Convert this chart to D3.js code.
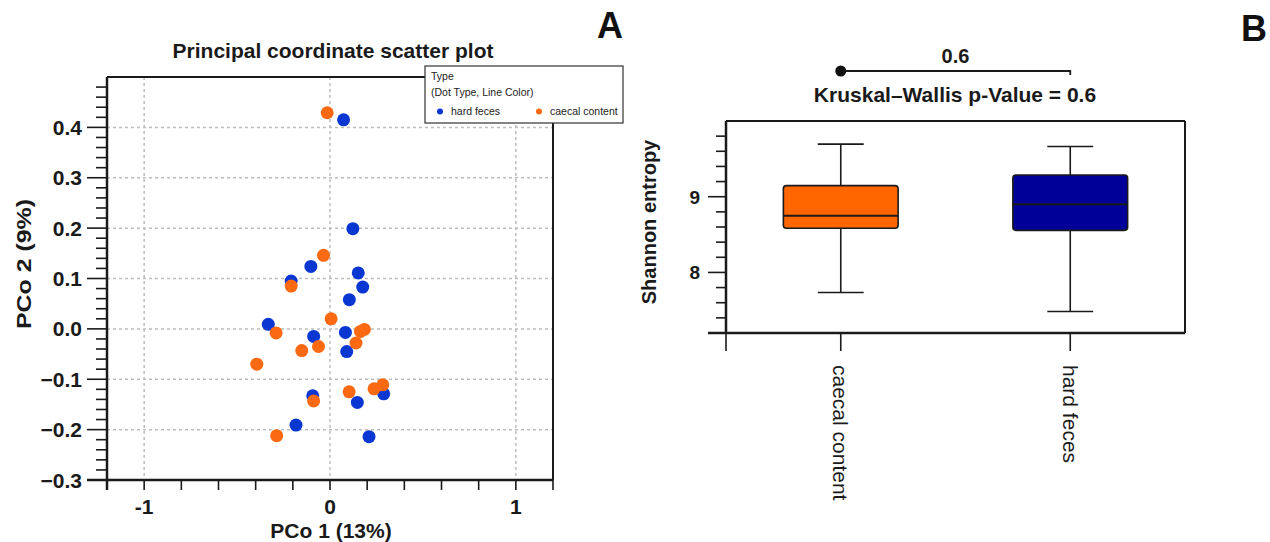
<!DOCTYPE html>
<html>
<head>
<meta charset="utf-8">
<script src="https://cdn.jsdelivr.net/npm/d3@7"></script>
<style>
  body { margin: 0; background: #fff; }
  svg { font-family: "Liberation Sans", Arial, sans-serif; }
</style>
</head>
<body>
<svg id="fig" width="1270" height="542"></svg>
<script>
// Panel A data: principal coordinates per sample
const hardFecesX = [0.073, 0.123, -0.103, 0.152, -0.209, 0.176, 0.104, -0.332, -0.088, 0.083, 0.090, 0.289, -0.093, 0.147, -0.183, 0.210];
const hardFecesY = [0.415, 0.199, 0.124, 0.111, 0.095, 0.083, 0.058, 0.009, -0.015, -0.007, -0.045, -0.129, -0.133, -0.146, -0.191, -0.214];
const caecalX = [-0.015, -0.035, -0.209, 0.006, -0.290, -0.062, -0.152, 0.164, 0.185, 0.140, -0.394, 0.284, 0.237, 0.103, -0.088, -0.287];
const caecalY = [0.429, 0.146, 0.085, 0.020, -0.008, -0.035, -0.043, -0.005, -0.001, -0.028, -0.070, -0.111, -0.119, -0.125, -0.143, -0.212];
const xTickLabels = [-1, 0, 1];
const yTickLabels = [-0.3, -0.2, -0.1, 0.0, 0.1, 0.2, 0.3, 0.4];

// Panel B data: Shannon entropy box stats
const groups = ["caecal content", "hard feces"];
const boxMin = [7.735, 7.483];
const boxQ1 = [8.584, 8.556];
const boxMedian = [8.748, 8.902];
const boxQ3 = [9.146, 9.287];
const boxMax = [9.694, 9.663];
const entropyTicks = [8, 9];
const pValue = 0.6;

const svg = d3.select("#fig");
const ink = "#1a1a1a";

// ---------- Panel A ----------
const ax = {left: 107, right: 553, top: 77, bottom: 480};
const x = d3.scaleLinear().domain([-1.2, 1.2]).range([ax.left, ax.right]);
const y = d3.scaleLinear().domain([-0.3, 0.5]).range([ax.bottom, ax.top]);

const gA = svg.append("g");

// dashed grid
gA.selectAll(".vgrid").data(xTickLabels).enter().append("line")
  .attr("x1", d => x(d)).attr("x2", d => x(d))
  .attr("y1", ax.top).attr("y2", ax.bottom)
  .attr("stroke", "#bdbdbd").attr("stroke-width", 1.5).attr("stroke-dasharray", "3,3");
gA.selectAll(".hgrid").data(yTickLabels.filter(d => d > -0.3)).enter().append("line")
  .attr("x1", ax.left).attr("x2", ax.right)
  .attr("y1", d => y(d)).attr("y2", d => y(d))
  .attr("stroke", "#bdbdbd").attr("stroke-width", 1.5).attr("stroke-dasharray", "3,3");

// frame (top / right)
gA.append("line").attr("x1", ax.left).attr("x2", ax.right).attr("y1", ax.top).attr("y2", ax.top)
  .attr("stroke", ink).attr("stroke-width", 2);
gA.append("line").attr("x1", ax.right).attr("x2", ax.right).attr("y1", ax.top).attr("y2", ax.bottom)
  .attr("stroke", ink).attr("stroke-width", 2);

// y axis with minor ticks every 0.02
const yMinor = d3.range(-15, 25).map(i => i * 0.02);
gA.selectAll(".ytick").data(yMinor).enter().append("line")
  .attr("x1", d => Math.abs(Math.round(d * 50) % 5) === 0 ? ax.left - 20 : ax.left - 11)
  .attr("x2", ax.left)
  .attr("y1", d => y(d)).attr("y2", d => y(d))
  .attr("stroke", ink).attr("stroke-width", 1.6);
gA.selectAll(".ylab").data(yTickLabels).enter().append("text")
  .attr("x", ax.left - 25).attr("y", d => y(d)).attr("dy", "0.36em")
  .attr("text-anchor", "end").attr("font-size", 21).attr("font-weight", "bold").attr("fill", ink)
  .text(d => d3.format(".1f")(d));

// x axis with ticks every 0.2
const xMinor = d3.range(-6, 7).map(i => i * 0.2);
gA.selectAll(".xtick").data(xMinor).enter().append("line")
  .attr("x1", d => x(d)).attr("x2", d => x(d))
  .attr("y1", ax.bottom).attr("y2", ax.bottom + 10)
  .attr("stroke", ink).attr("stroke-width", 1.6);
gA.selectAll(".xlab").data(xTickLabels).enter().append("text")
  .attr("x", d => x(d)).attr("y", 514)
  .attr("text-anchor", "middle").attr("font-size", 21).attr("font-weight", "bold").attr("fill", ink)
  .text(d => d);

gA.append("line").attr("x1", ax.left).attr("x2", ax.left).attr("y1", ax.top).attr("y2", ax.bottom + 10)
  .attr("stroke", ink).attr("stroke-width", 2.5);
gA.append("line").attr("x1", ax.left - 20).attr("x2", ax.right).attr("y1", ax.bottom).attr("y2", ax.bottom)
  .attr("stroke", ink).attr("stroke-width", 2.5);

// axis titles
gA.append("text").attr("x", 331).attr("y", 538).attr("text-anchor", "middle")
  .attr("font-size", 21).attr("font-weight", "bold").attr("fill", ink).text("PCo 1 (13%)");
gA.append("text").attr("transform", "translate(31,264) rotate(-90)").attr("text-anchor", "middle")
  .attr("font-size", 21).attr("font-weight", "bold").attr("fill", ink)
  .attr("textLength", 130).attr("lengthAdjust", "spacingAndGlyphs").text("PCo 2 (9%)");
gA.append("text").attr("x", 333).attr("y", 58).attr("text-anchor", "middle")
  .attr("font-size", 21).attr("font-weight", "bold").attr("fill", ink).text("Principal coordinate scatter plot");

// points
const blue = "#0a37d2", orange = "#fb6a12";
const hardPts = hardFecesX.map((v, i) => ({x: v, y: hardFecesY[i]}));
const caecalPts = caecalX.map((v, i) => ({x: v, y: caecalY[i]}));
gA.selectAll(".hard").data(hardPts).enter().append("circle")
  .attr("cx", d => x(d.x)).attr("cy", d => y(d.y)).attr("r", 6.5).attr("fill", blue);
gA.selectAll(".caecal").data(caecalPts).enter().append("circle")
  .attr("cx", d => x(d.x)).attr("cy", d => y(d.y)).attr("r", 6.5).attr("fill", orange);

// legend
const lg = gA.append("g").attr("transform", "translate(425,66)");
lg.append("rect").attr("width", 198).attr("height", 57).attr("fill", "#fff")
  .attr("stroke", "#333").attr("stroke-width", 1.2);
lg.append("text").attr("x", 6).attr("y", 14).attr("font-size", 10.5).attr("fill", "#222").text("Type");
lg.append("text").attr("x", 6).attr("y", 29.5).attr("font-size", 10.5).attr("fill", "#222").text("(Dot Type, Line Color)");
const legendItems = [{label: "hard feces", color: blue, dx: 15}, {label: "caecal content", color: orange, dx: 114}];
legendItems.forEach(it => {
  lg.append("circle").attr("cx", it.dx).attr("cy", 45.5).attr("r", 3).attr("fill", it.color);
  lg.append("text").attr("x", it.dx + 11).attr("y", 49).attr("font-size", 10.5).attr("fill", "#222").text(it.label);
});

svg.append("text").attr("x", 610).attr("y", 38).attr("text-anchor", "middle")
  .attr("font-size", 36).attr("font-weight", "bold").attr("fill", "#111").text("A");

// ---------- Panel B ----------
const bx = {left: 726, right: 1185, top: 121, bottom: 333};
const xb = d3.scalePoint().domain(groups).range([bx.left, bx.right]).padding(0.5);
const yb = d3.scaleLinear().domain([7.2, 10.0]).range([bx.bottom, bx.top]);
const step = xb.step();
const gB = svg.append("g");

gB.append("line").attr("x1", bx.left).attr("x2", bx.right).attr("y1", bx.top).attr("y2", bx.top)
  .attr("stroke", ink).attr("stroke-width", 2);
gB.append("line").attr("x1", bx.right).attr("x2", bx.right).attr("y1", bx.top).attr("y2", bx.bottom)
  .attr("stroke", ink).attr("stroke-width", 2);

const ybMinor = d3.range(36, 50).map(i => i * 0.2);
gB.selectAll(".ytick").data(ybMinor).enter().append("line")
  .attr("x1", d => entropyTicks.some(t => Math.abs(t - d) < 1e-6) ? bx.left - 18 : bx.left - 10)
  .attr("x2", bx.left)
  .attr("y1", d => yb(d)).attr("y2", d => yb(d))
  .attr("stroke", ink).attr("stroke-width", 1.6);
gB.selectAll(".ylab").data(entropyTicks).enter().append("text")
  .attr("x", bx.left - 26).attr("y", d => yb(d)).attr("dy", "0.36em")
  .attr("text-anchor", "end").attr("font-size", 19).attr("font-weight", "bold").attr("fill", ink)
  .text(d => d);

// x ticks (frame edge + category centres)
gB.selectAll(".xtick").data([bx.left].concat(groups.map(g => xb(g)))).enter().append("line")
  .attr("x1", d => d).attr("x2", d => d).attr("y1", bx.bottom).attr("y2", bx.bottom + 18)
  .attr("stroke", ink).attr("stroke-width", 1.6);
gB.selectAll(".xlab").data(groups).enter().append("text")
  .attr("transform", d => `translate(${xb(d)},365) rotate(90)`).attr("dy", "0.35em")
  .attr("font-size", 21).attr("fill", ink).text(d => d);

gB.append("line").attr("x1", bx.left).attr("x2", bx.left).attr("y1", bx.top).attr("y2", bx.bottom)
  .attr("stroke", ink).attr("stroke-width", 2.5);
gB.append("line").attr("x1", bx.left - 18).attr("x2", bx.right).attr("y1", bx.bottom).attr("y2", bx.bottom)
  .attr("stroke", ink).attr("stroke-width", 2.5);

gB.append("text").attr("transform", "translate(656,222) rotate(-90)").attr("text-anchor", "middle")
  .attr("font-size", 20).attr("font-weight", "bold").attr("fill", ink).text("Shannon entropy");

// boxes
const boxFill = ["#ff6600", "#000099"];
const boxW = step * 0.5, capW = step * 0.2;
groups.forEach((g, i) => {
  const cx = xb(g);
  gB.append("line").attr("x1", cx).attr("x2", cx).attr("y1", yb(boxMax[i])).attr("y2", yb(boxMin[i]))
    .attr("stroke", ink).attr("stroke-width", 1.6);
  [boxMax[i], boxMin[i]].forEach(v => {
    gB.append("line").attr("x1", cx - capW / 2).attr("x2", cx + capW / 2)
      .attr("y1", yb(v)).attr("y2", yb(v)).attr("stroke", ink).attr("stroke-width", 1.6);
  });
  gB.append("rect").attr("x", cx - boxW / 2).attr("width", boxW)
    .attr("y", yb(boxQ3[i])).attr("height", yb(boxQ1[i]) - yb(boxQ3[i]))
    .attr("rx", 3).attr("fill", boxFill[i]).attr("stroke", ink).attr("stroke-width", 1.6);
  gB.append("line").attr("x1", cx - boxW / 2).attr("x2", cx + boxW / 2)
    .attr("y1", yb(boxMedian[i])).attr("y2", yb(boxMedian[i])).attr("stroke", ink).attr("stroke-width", 2);
});

// comparison bracket
const x0 = xb(groups[0]), x1 = xb(groups[1]);
gB.append("path").attr("d", `M${x0},71 H${x1} V75`).attr("fill", "none")
  .attr("stroke", ink).attr("stroke-width", 1.8);
gB.append("circle").attr("cx", x0).attr("cy", 71).attr("r", 5.5).attr("fill", "#111");
gB.append("text").attr("x", (x0 + x1) / 2).attr("y", 63).attr("text-anchor", "middle")
  .attr("font-size", 20).attr("font-weight", "bold").attr("fill", ink).text(pValue);
gB.append("text").attr("x", 955).attr("y", 102).attr("text-anchor", "middle")
  .attr("font-size", 21).attr("font-weight", "bold").attr("fill", ink)
  .text("Kruskal\u2013Wallis p-Value = " + pValue);

svg.append("text").attr("x", 1254).attr("y", 41).attr("text-anchor", "middle")
  .attr("font-size", 36).attr("font-weight", "bold").attr("fill", "#111").text("B");
</script>
</body>
</html>
